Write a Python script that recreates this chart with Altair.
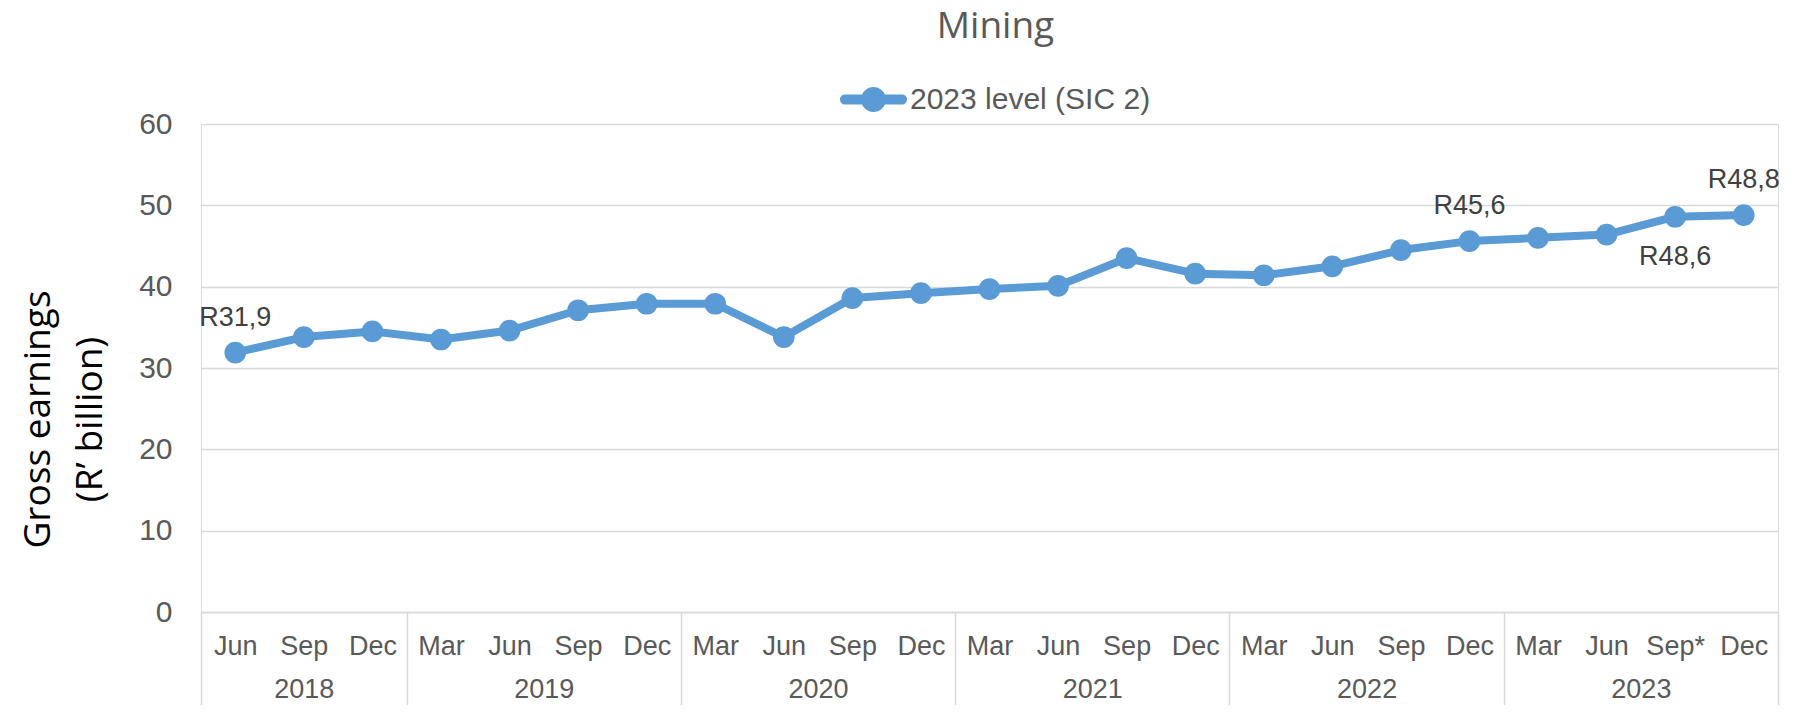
import altair as alt
import pandas as pd

# ---- data ----
months = ["Jun", "Sep", "Dec",
          "Mar", "Jun", "Sep", "Dec",
          "Mar", "Jun", "Sep", "Dec",
          "Mar", "Jun", "Sep", "Dec",
          "Mar", "Jun", "Sep", "Dec",
          "Mar", "Jun", "Sep*", "Dec"]
years = (["2018"] * 3 + ["2019"] * 4 + ["2020"] * 4 +
         ["2021"] * 4 + ["2022"] * 4 + ["2023"] * 4)
values = [31.9, 33.8, 34.5, 33.5, 34.6, 37.1, 37.9, 37.9, 33.8, 38.6, 39.2,
          39.7, 40.1, 43.5, 41.6, 41.4, 42.5, 44.5, 45.6, 46.0, 46.4, 48.6, 48.8]
series_name = "2023 level (SIC 2)"
label_points = [0, 18, 21, 22]
label_texts = ["R31,9", "R45,6", "R48,6", "R48,8"]
label_below = [False, False, True, False]
y_ticks = [0, 10, 20, 30, 40, 50, 60]
y_title = ["Gross earnings", "(R\u2019 billion)"]
chart_title = "Mining"

# ---- derived tables ----
n = len(values)
idx = list(range(n))
year_names = list(dict.fromkeys(years))
year_centers = []
boundaries = [-0.5]
for yname in year_names:
    members = [i for i in idx if years[i] == yname]
    year_centers.append(sum(members) / len(members))
    boundaries.append(members[-1] + 0.5)

df = pd.DataFrame({"idx": idx, "month": months, "year": years,
                   "value": values, "series": series_name})
lab = pd.DataFrame({"idx": label_points,
                    "value": [values[i] for i in label_points],
                    "text": label_texts,
                    "below": label_below})

FONT = "Liberation Sans"
GRAY = "#595959"
GRID = "#d9d9d9"
BLUE = "#5B9BD5"

xscale = alt.Scale(domain=[-0.5, n - 0.5], nice=False, zero=False)

month_expr = "[" + ",".join("'%s'" % m for m in months) + "][round(datum.value)]"
year_expr = ""
for c, yname in zip(year_centers, year_names):
    year_expr += "abs(datum.value - %s) < 0.01 ? '%s' : " % (c, yname)
year_expr += "''"

month_axis = alt.Axis(values=idx, labelExpr=month_expr, orient="bottom",
                      grid=False, ticks=False, domain=True, domainColor=GRID,
                      domainWidth=1.5, labelFont=FONT, labelFontSize=27,
                      labelColor=GRAY, labelPadding=21, labelFlush=False,
                      labelOverlap=False, labelBound=False, title=None)
year_axis = alt.Axis(values=year_centers, labelExpr=year_expr, orient="bottom",
                     grid=False, ticks=False, domain=False, labelFont=FONT,
                     labelFontSize=27, labelColor=GRAY, labelPadding=64,
                     labelFlush=False, labelOverlap=False, labelBound=False,
                     title=None)
div_axis = alt.Axis(values=boundaries, orient="bottom", grid=False, ticks=True,
                    tickSize=101, tickColor=GRID, tickWidth=1.5, labels=False,
                    domain=False, title=None)

y_enc = alt.Y("value:Q", scale=alt.Scale(domain=[0, 60], nice=False, zero=True),
              axis=alt.Axis(values=y_ticks, grid=True, gridColor=GRID,
                            gridWidth=1.5, domain=False, ticks=False,
                            labelFont=FONT, labelFontSize=30, labelColor=GRAY,
                            labelPadding=29, title=y_title,
                            titleFont="Open Sans", titleFontSize=37,
                            titleFontWeight="normal", titleColor="#000000",
                            titleAngle=270, titleAlign="center",
                            titleBaseline="alphabetic", titleX=-152,
                            titleY=295, titleLineHeight=52))

legend_path = ("M-0.85,-0.15 L0.85,-0.15 A0.15,0.15 0 0 1 0.85,0.15 "
               "L-0.85,0.15 A0.15,0.15 0 0 1 -0.85,-0.15 Z "
               "M-0.373,0 A0.373,0.373 0 1 1 0.373,0 "
               "A0.373,0.373 0 1 1 -0.373,0 Z")

line = alt.Chart(df).mark_line(color=BLUE, strokeWidth=8, strokeCap="round",
                               strokeJoin="round").encode(
    x=alt.X("idx:Q", scale=xscale, axis=month_axis),
    y=y_enc)

points = alt.Chart(df).mark_circle(size=470, opacity=1).encode(
    x=alt.X("idx:Q", scale=xscale, axis=None),
    y=y_enc,
    color=alt.Color("series:N", scale=alt.Scale(range=[BLUE]),
                    legend=alt.Legend(title=None, orient="none", legendX=639,
                                      legendY=-58, symbolType=legend_path,
                                      symbolSize=4489, symbolStrokeWidth=0,
                                      symbolOpacity=1, labelFont=FONT,
                                      labelFontSize=30, labelColor=GRAY,
                                      labelOffset=3, labelLimit=600,
                                      padding=0)))

lab_above = alt.Chart(lab).transform_filter("!datum.below").mark_text(
    dy=-27, baseline="alphabetic", align="center", font=FONT, fontSize=27,
    color="#404040").encode(
    x=alt.X("idx:Q", scale=xscale, axis=None), y=y_enc, text="text:N")

lab_below = alt.Chart(lab).transform_filter("datum.below").mark_text(
    dy=48, baseline="alphabetic", align="center", font=FONT, fontSize=27,
    color="#404040").encode(
    x=alt.X("idx:Q", scale=xscale, axis=None), y=y_enc, text="text:N")

year_layer = alt.Chart(df).mark_point(opacity=0).encode(
    x=alt.X("idx:Q", scale=xscale, axis=year_axis), y=y_enc)

div_layer = alt.Chart(df).mark_point(opacity=0).encode(
    x=alt.X("idx:Q", scale=xscale, axis=div_axis), y=y_enc)

chart = alt.layer(line, points, lab_above, lab_below, year_layer, div_layer
                  ).resolve_scale(x="independent").properties(
    width=1577, height=488,
    title=alt.TitleParams(chart_title, font="Open Sans", fontSize=37,
                          fontWeight="normal", color=GRAY, anchor="middle",
                          baseline="alphabetic", offset=-9, dx=6),
    padding={"left": 193, "top": 116, "right": 12, "bottom": 93},
    autosize=alt.AutoSizeParams(type="none"),
).configure_view(stroke=None).configure(background="white")

chart.save("out.html", embed_options={"renderer": "svg", "actions": False})
